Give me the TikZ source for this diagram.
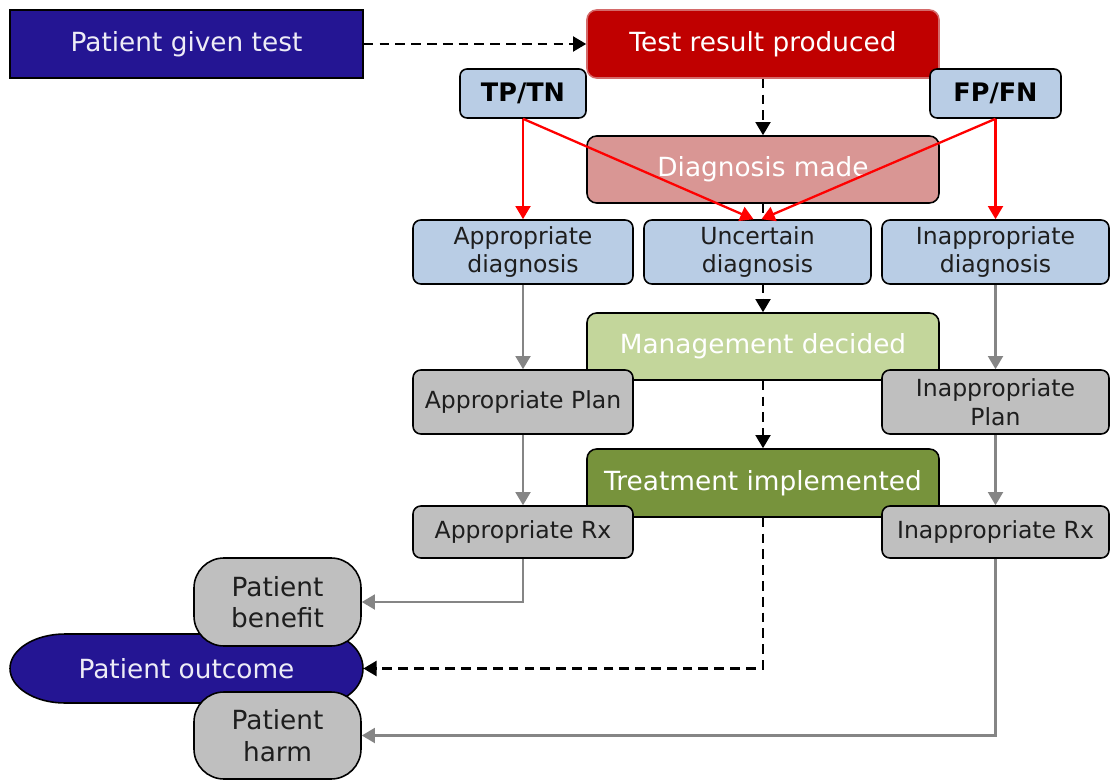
\documentclass[tikz,border=0pt]{standalone}
\usepackage{fontspec}
\setmainfont{DejaVu Sans}
\usetikzlibrary{arrows.meta,calc}
\pgfdeclarelayer{bg}
\pgfsetlayers{bg,main}

\definecolor{indigo}{HTML}{241593}
\definecolor{testred}{HTML}{C00000}
\definecolor{testedge}{HTML}{D46A6A}
\definecolor{diagpink}{HTML}{D99694}
\definecolor{paleblue}{HTML}{B9CDE5}
\definecolor{palegreen}{HTML}{C3D69B}
\definecolor{olivegreen}{HTML}{77933C}
\definecolor{boxgray}{HTML}{BFBFBF}
\definecolor{linegray}{HTML}{858585}
\definecolor{inkdark}{HTML}{1E1E1E}

\tikzset{
  base/.style={draw=black, line width=0.9pt, align=center, inner sep=0pt},
  bigtext/.style={font=\fontsize{15}{18}\selectfont},
  smalltext/.style={font=\fontsize{13.4}{16.4}\selectfont},
  stage/.style={base, bigtext, rounded corners=5.5pt, text=white},
  choice/.style={base, smalltext, rounded corners=4.5pt, text=inkdark},
  resultbox/.style={base, font=\fontsize{14.5}{17}\selectfont\bfseries,
    rounded corners=4pt, fill=paleblue, text=black},
  pill/.style={base, bigtext, rounded corners=0.6cm, fill=boxgray, text=inkdark},
  tip/.style={-{Triangle[length=7.5pt,width=8.5pt]}},
  dasharrow/.style={draw=black, line width=1.3pt, dash pattern=on 5.5pt off 3.5pt, tip},
  redarrow/.style={draw=red, line width=1.3pt, tip},
  grayarrow/.style={draw=linegray, line width=1.3pt, tip},
}

% box from its corners: name, style, x1, y1, x2, y2, text
\newcommand{\pbox}[7]{%
  \node[#2, minimum width={(#5-#3)*0.02cm}, minimum height={(#6-#4)*0.02cm}]
    (#1) at ({(#3+#5)/2},{(#4+#6)/2}) {#7};}

\begin{document}
\begin{tikzpicture}[x=0.02cm, y=-0.02cm]
\useasboundingbox (0,0) rectangle (1115,780);

% main stages
\pbox{given}{base, bigtext, fill=indigo, text=white!92!indigo}{10}{10}{363}{78}{Patient given test}
\pbox{result}{stage, fill=testred, draw=testedge}{587}{10}{939}{78}{Test result produced}
\pbox{diag}{stage, fill=diagpink}{587}{136}{939}{203}{Diagnosis made}
\pbox{mgmt}{stage, fill=palegreen}{587}{313}{939}{380}{Management decided}
\pbox{treat}{stage, fill=olivegreen}{587}{449}{939}{517}{Treatment implemented}

% test result classes
\pbox{tptn}{resultbox}{460}{69}{586}{118}{TP/TN}
\pbox{fpfn}{resultbox}{930}{69}{1061}{118}{FP/FN}

% dashed line running behind the uncertain diagnosis box
\begin{pgfonlayer}{bg}
  \draw[dasharrow] (diag.south) -- (mgmt.north);
\end{pgfonlayer}

% diagnoses
\pbox{appdiag}{choice, fill=paleblue}{413}{220}{633}{284}{Appropriate\\diagnosis}
\pbox{unc}{choice, fill=paleblue}{644}{220}{871}{284}{Uncertain\\diagnosis}
\pbox{inappdiag}{choice, fill=paleblue}{882}{220}{1109}{284}{Inappropriate\\diagnosis}

% plans and treatments
\pbox{appplan}{choice, fill=boxgray}{413}{370}{633}{434}{Appropriate Plan}
\pbox{inappplan}{choice, fill=boxgray}{882}{370}{1109}{434}{Inappropriate\\Plan}
\pbox{apprx}{choice, fill=boxgray}{413}{506}{633}{558}{Appropriate Rx}
\pbox{inapprx}{choice, fill=boxgray}{882}{506}{1109}{558}{Inappropriate Rx}

% patient outcome, drawn under the benefit and harm boxes
\draw[line width=0.9pt, fill=indigo] (65,634) -- (323,634)
  arc[start angle=90, end angle=-90, x radius=0.8cm, y radius=0.69cm]
  -- (65,703)
  arc[start angle=270, end angle=90, x radius=1.1cm, y radius=0.69cm] -- cycle;
\node[bigtext, text=white!92!indigo, minimum width={353*0.02cm},
  minimum height={69*0.02cm}, inner sep=0pt] (outcome) at (186.5,668.5) {Patient outcome};

\pbox{benefit}{pill}{194}{558}{361}{646}{Patient\\benefit}
\pbox{harm}{pill}{194}{692}{361}{779}{Patient\\harm}

% main flow
\draw[dasharrow] (given.east) -- (result.west);
\draw[dasharrow] (result.south) -- (diag.north);
\draw[dasharrow] (mgmt.south) -- (treat.north);
\draw[dasharrow] (treat.south) |- (outcome.east);

% test result classes to diagnoses
\draw[redarrow] (tptn.south) -- (appdiag.north);
\draw[redarrow] (tptn.south) -- ([xshift=-0.08cm]unc.north);
\draw[redarrow] (fpfn.south) -- (inappdiag.north);
\draw[redarrow] (fpfn.south) -- ([xshift=0.08cm]unc.north);

% appropriate and inappropriate pathways
\draw[grayarrow] (appdiag.south) -- (appplan.north);
\draw[grayarrow] (appplan.south) -- (apprx.north);
\draw[grayarrow] (inappdiag.south) -- (inappplan.north);
\draw[grayarrow] (inappplan.south) -- (inapprx.north);
\draw[grayarrow] (apprx.south) |- (benefit.east);
\draw[grayarrow] (inapprx.south) |- (harm.east);
\end{tikzpicture}
\end{document}
